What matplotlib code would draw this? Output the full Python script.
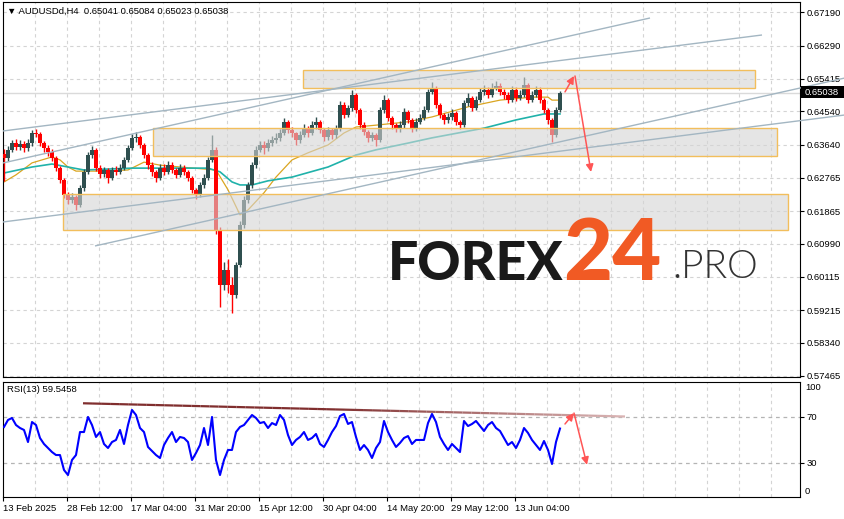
import matplotlib
matplotlib.use('Agg')
import matplotlib.pyplot as plt
import numpy as np
from matplotlib.collections import LineCollection
from matplotlib.patches import Rectangle

plt.rcParams['font.family'] = ['Liberation Sans', 'DejaVu Sans']

# ---------------- data ----------------
opens = [
    0.6340, 0.6329, 0.6351, 0.6369, 0.6359, 0.6367, 0.6356, 0.6369, 0.6396, 0.6393,
    0.6369, 0.6356, 0.6345, 0.6329, 0.6302, 0.6270, 0.6230, 0.6217, 0.6225, 0.6203,
    0.6249, 0.6292, 0.6337, 0.6351, 0.6302, 0.6286, 0.6297, 0.6276, 0.6297, 0.6292,
    0.6302, 0.6324, 0.6356, 0.6383, 0.6385, 0.6364, 0.6337, 0.6310, 0.6292, 0.6276,
    0.6302, 0.6292, 0.6310, 0.6297, 0.6284, 0.6302, 0.6292, 0.6276, 0.6244, 0.6230,
    0.6257, 0.6276, 0.6324, 0.6351, 0.6137, 0.5989, 0.6030, 0.5989, 0.5963, 0.6043,
    0.6150, 0.6217, 0.6257, 0.6310, 0.6351, 0.6364, 0.6356, 0.6369, 0.6377, 0.6383,
    0.6396, 0.6426, 0.6404, 0.6396, 0.6377, 0.6391, 0.6409, 0.6396, 0.6417, 0.6426,
    0.6404, 0.6385, 0.6404, 0.6391, 0.6409, 0.6471, 0.6444, 0.6463, 0.6498, 0.6458,
    0.6417, 0.6399, 0.6383, 0.6391, 0.6377, 0.6458, 0.6484, 0.6436, 0.6417, 0.6409,
    0.6417, 0.6452, 0.6431, 0.6409, 0.6426, 0.6436, 0.6458, 0.6506, 0.6517, 0.6471,
    0.6444, 0.6431, 0.6439, 0.6450, 0.6426, 0.6417, 0.6476, 0.6490, 0.6463, 0.6484,
    0.6506, 0.6511, 0.6498, 0.6517, 0.6522, 0.6506, 0.6498, 0.6484, 0.6511, 0.6490,
    0.6498, 0.6525, 0.6484, 0.6498, 0.6511, 0.6484, 0.6458, 0.6431, 0.6391, 0.6458,
]
closes = [
    0.6329, 0.6351, 0.6369, 0.6359, 0.6367, 0.6356, 0.6369, 0.6396, 0.6393, 0.6369,
    0.6356, 0.6345, 0.6329, 0.6302, 0.6270, 0.6230, 0.6217, 0.6225, 0.6203, 0.6249,
    0.6292, 0.6337, 0.6351, 0.6302, 0.6286, 0.6297, 0.6276, 0.6297, 0.6292, 0.6302,
    0.6324, 0.6356, 0.6383, 0.6385, 0.6364, 0.6337, 0.6310, 0.6292, 0.6276, 0.6302,
    0.6292, 0.6310, 0.6297, 0.6284, 0.6302, 0.6292, 0.6276, 0.6244, 0.6230, 0.6257,
    0.6276, 0.6324, 0.6351, 0.6137, 0.5989, 0.6030, 0.5989, 0.5963, 0.6043, 0.6150,
    0.6217, 0.6257, 0.6310, 0.6351, 0.6364, 0.6356, 0.6369, 0.6377, 0.6383, 0.6396,
    0.6426, 0.6404, 0.6396, 0.6377, 0.6391, 0.6409, 0.6396, 0.6417, 0.6426, 0.6404,
    0.6385, 0.6404, 0.6391, 0.6409, 0.6471, 0.6444, 0.6463, 0.6498, 0.6458, 0.6417,
    0.6399, 0.6383, 0.6391, 0.6377, 0.6458, 0.6484, 0.6436, 0.6417, 0.6409, 0.6417,
    0.6452, 0.6431, 0.6409, 0.6426, 0.6436, 0.6458, 0.6506, 0.6517, 0.6471, 0.6444,
    0.6431, 0.6439, 0.6450, 0.6426, 0.6417, 0.6476, 0.6490, 0.6463, 0.6484, 0.6506,
    0.6511, 0.6498, 0.6517, 0.6522, 0.6506, 0.6498, 0.6484, 0.6511, 0.6490, 0.6498,
    0.6525, 0.6484, 0.6498, 0.6511, 0.6484, 0.6458, 0.6431, 0.6391, 0.6458, 0.65038,
]
highs = [
    0.6352, 0.6360, 0.6378, 0.6381, 0.6377, 0.6374, 0.6380, 0.6404, 0.6408, 0.6398,
    0.6375, 0.6363, 0.6352, 0.6334, 0.6308, 0.6276, 0.6238, 0.6236, 0.6230, 0.6256,
    0.6300, 0.6345, 0.6362, 0.6355, 0.6310, 0.6306, 0.6302, 0.6305, 0.6308, 0.6312,
    0.6333, 0.6364, 0.6392, 0.6399, 0.6390, 0.6370, 0.6342, 0.6318, 0.6298, 0.6312,
    0.6312, 0.6320, 0.6318, 0.6302, 0.6312, 0.6310, 0.6298, 0.6282, 0.6250, 0.6265,
    0.6285, 0.6332, 0.6390, 0.6358, 0.6145, 0.6050, 0.6058, 0.6010, 0.6052, 0.6160,
    0.6228, 0.6265, 0.6318, 0.6360, 0.6375, 0.6375, 0.6380, 0.6388, 0.6395, 0.6408,
    0.6436, 0.6432, 0.6412, 0.6400, 0.6402, 0.6420, 0.6415, 0.6428, 0.6438, 0.6430,
    0.6410, 0.6412, 0.6410, 0.6418, 0.6482, 0.6478, 0.6472, 0.6512, 0.6503, 0.6463,
    0.6425, 0.6405, 0.6400, 0.6396, 0.6466, 0.6498, 0.6490, 0.6442, 0.6424, 0.6428,
    0.6462, 0.6458, 0.6436, 0.6435, 0.6446, 0.6468, 0.6515, 0.6533, 0.6522, 0.6476,
    0.6450, 0.6450, 0.6460, 0.6456, 0.6432, 0.6485, 0.6502, 0.6496, 0.6494, 0.6516,
    0.6524, 0.6518, 0.6530, 0.6535, 0.6530, 0.6515, 0.6505, 0.6522, 0.6518, 0.6510,
    0.6546, 0.6530, 0.6508, 0.6522, 0.6518, 0.6490, 0.6464, 0.6436, 0.6466, 0.65084,
]
lows = [
    0.6268, 0.6322, 0.6344, 0.6350, 0.6350, 0.6345, 0.6348, 0.6362, 0.6385, 0.6362,
    0.6345, 0.6335, 0.6320, 0.6295, 0.6262, 0.6222, 0.6205, 0.6208, 0.6190, 0.6198,
    0.6242, 0.6285, 0.6330, 0.6295, 0.6275, 0.6278, 0.6262, 0.6270, 0.6283, 0.6285,
    0.6296, 0.6318, 0.6350, 0.6372, 0.6355, 0.6328, 0.6300, 0.6282, 0.6265, 0.6270,
    0.6284, 0.6285, 0.6288, 0.6275, 0.6278, 0.6284, 0.6268, 0.6236, 0.6220, 0.6225,
    0.6250, 0.6270, 0.6318, 0.6125, 0.5930, 0.5975, 0.5968, 0.5915, 0.5955, 0.6038,
    0.6142, 0.6208, 0.6250, 0.6302, 0.6345, 0.6340, 0.6348, 0.6360, 0.6368, 0.6375,
    0.6390, 0.6396, 0.6385, 0.6365, 0.6370, 0.6385, 0.6386, 0.6390, 0.6408, 0.6395,
    0.6375, 0.6378, 0.6380, 0.6383, 0.6402, 0.6436, 0.6438, 0.6455, 0.6450, 0.6408,
    0.6390, 0.6372, 0.6375, 0.6360, 0.6372, 0.6450, 0.6428, 0.6408, 0.6398, 0.6400,
    0.6410, 0.6422, 0.6400, 0.6402, 0.6420, 0.6430, 0.6452, 0.6500, 0.6462, 0.6436,
    0.6420, 0.6424, 0.6432, 0.6418, 0.6408, 0.6412, 0.6468, 0.6455, 0.6458, 0.6478,
    0.6498, 0.6490, 0.6492, 0.6510, 0.6498, 0.6488, 0.6475, 0.6478, 0.6482, 0.6484,
    0.6492, 0.6476, 0.6478, 0.6492, 0.6476, 0.6450, 0.6420, 0.6372, 0.6385, 0.6452,
]
rsi_values = [
    60.9, 67.0, 68.7, 62.6, 60.0, 58.3, 47.8, 65.2, 62.6, 51.3,
    46.1, 42.6, 39.1, 36.5, 36.5, 23.5, 19.1, 32.2, 36.5, 56.5,
    56.5, 69.6, 62.6, 52.2, 56.5, 46.1, 42.6, 47.8, 49.6, 58.3,
    46.1, 62.6, 75.7, 71.3, 60.0, 56.5, 43.5, 40.0, 36.5, 33.9,
    45.2, 51.3, 56.5, 47.8, 52.2, 51.3, 47.8, 32.2, 38.3, 45.2,
    60.0, 45.2, 69.6, 32.2, 19.1, 32.2, 40.9, 40.9, 56.5, 60.9,
    62.6, 67.0, 71.3, 68.7, 64.3, 65.2, 60.0, 64.3, 62.6, 71.3,
    67.0, 53.9, 45.2, 49.6, 52.2, 56.5, 49.6, 51.3, 54.8, 46.1,
    43.5, 49.6, 56.5, 61.7, 70.4, 72.2, 63.5, 65.2, 52.2, 40.9,
    45.2, 40.9, 33.9, 42.6, 47.8, 66.1, 56.5, 49.6, 43.5, 47.0,
    51.3, 53.0, 46.1, 49.6, 49.6, 49.6, 64.3, 72.2, 65.2, 52.2,
    46.1, 40.9, 46.1, 42.6, 39.1, 66.1, 61.7, 63.5, 66.1, 61.7,
    57.4, 62.6, 65.2, 60.0, 57.4, 51.3, 45.2, 47.8, 42.6, 49.6,
    60.0, 55.7, 49.6, 45.2, 40.9, 48.7, 40.9, 28.7, 47.8, 59.5458,
]
ma_fast_idx = [0, 3, 7, 12, 14, 16, 18, 24, 31, 35, 39, 44, 53, 56, 59, 61, 65, 68,
               72, 76, 81, 85, 88, 93, 101, 107, 116, 124, 132, 136, 137, 139]
ma_fast_val = [0.6265, 0.6284, 0.6316, 0.6332, 0.6324, 0.6305, 0.6294, 0.6294, 0.6297,
               0.6318, 0.6310, 0.6305, 0.6297, 0.6244, 0.6177, 0.6190, 0.6236, 0.6278,
               0.6324, 0.6343, 0.6364, 0.6396, 0.6412, 0.6417, 0.6426, 0.6439, 0.6466,
               0.6484, 0.6492, 0.6492, 0.6484, 0.6484]
ma_slow_idx = [0, 7, 12, 16, 20, 32, 42, 51, 54, 57, 59, 62, 66, 72, 81, 88, 93, 101,
               107, 120, 128, 135, 139]
ma_slow_val = [0.6289, 0.6305, 0.6313, 0.6305, 0.6297, 0.6302, 0.6302, 0.6302, 0.6292,
               0.6265, 0.6257, 0.6257, 0.6268, 0.6278, 0.6305, 0.6337, 0.6351, 0.6369,
               0.6383, 0.6409, 0.6431, 0.6447, 0.6447]

price_ticks = [0.67190, 0.66290, 0.65415, 0.64540, 0.63640, 0.62765,
               0.61865, 0.60990, 0.60115, 0.59215, 0.58340, 0.57465]
date_labels = ['13 Feb 2025', '28 Feb 12:00', '17 Mar 04:00', '31 Mar 20:00',
               '15 Apr 12:00', '30 Apr 04:00', '14 May 20:00', '29 May 12:00',
               '13 Jun 04:00']
# zones (x from, x to in bars; price low, price high)
zones = [(74.75, 187.75, 0.6517, 0.6565),
         (37.25, 193.25, 0.63345, 0.64095),
         (14.75, 196.0, 0.61365, 0.62328)]
# trend lines (bar, price) -> (bar, price)
trend_lines = [((-0.25, 0.64014), (189.5, 0.66583)),
               ((-0.25, 0.63158), (161.5, 0.67038)),
               ((-0.25, 0.61579), (210.25, 0.64443)),
               ((22.75, 0.60937), (210.25, 0.65433))]
last_price = 0.65038
rsi_last = 59.5458

# ---------------- figure ----------------
W, H = 845, 519
fig = plt.figure(figsize=(W / 100, H / 100), dpi=100)


def fx(px):
    return px / W


def fy(py):
    return 1 - py / H


ax = fig.add_axes([fx(3), fy(377), fx(800) - fx(3), fy(2) - fy(377)])
axr = fig.add_axes([fx(3), fy(497), fx(800) - fx(3), fy(382) - fy(497)])

XL = (-0.25, 199)
for a in (ax, axr):
    a.set_xlim(*XL)
    for s in a.spines.values():
        s.set_color('black')
        s.set_linewidth(0.8)
    a.set_facecolor('white')

ax.set_ylim(0.57430, 0.67466)
axr.set_ylim(0, 100)

grid_x = [-0.25 + 8 * k for k in range(1, 26)]
dash = (0, (3, 3))
for a in (ax, axr):
    for gx in grid_x:
        a.axvline(gx, color='#D4D4D4', lw=0.8, linestyle=dash, zorder=0.5)
for p in price_ticks:
    ax.axhline(p, color='#D4D4D4', lw=0.8, linestyle=dash, zorder=0.5)
for r in (30, 70):
    axr.axhline(r, color='#B4B4B4', lw=0.9, linestyle=dash, zorder=0.5)

# bid line
ax.axhline(last_price, color='#DADADA', lw=1.0, zorder=0.8)

# moving averages
ax.plot(ma_fast_idx, ma_fast_val, color='#DAA520', lw=0.9, zorder=2)
ax.plot(ma_slow_idx, ma_slow_val, color='#20B2AA', lw=1.2, zorder=2)

# candles
o = np.array(opens); c = np.array(closes)
hi = np.array(highs); lo = np.array(lows)
xs = np.arange(len(c))
cols = np.where(c >= o, '#2F4F4F', '#FF0000')
ax.vlines(xs, lo, hi, colors=cols, lw=1.0, zorder=3)
ax.bar(xs, np.maximum(np.abs(c - o), 0.00008), bottom=np.minimum(o, c),
       width=0.82, color=cols, zorder=3, linewidth=0)

# zones
for x0, x1, p0, p1 in zones:
    ax.add_patch(Rectangle((x0, p0), x1 - x0, p1 - p0,
                           facecolor=(0.83, 0.83, 0.83, 0.6),
                           edgecolor='#F2BE5C', lw=1.0, zorder=4))

# trend lines
for (x0, y0), (x1, y1) in trend_lines:
    ax.plot([x0, x1], [y0, y1], color='#A3B6C2', lw=1.0, zorder=5,
            clip_on=False, solid_capstyle='butt')

# arrows main
arr = dict(arrowstyle='-|>', color='#FF5555', lw=1.1, mutation_scale=11,
           shrinkA=0, shrinkB=0)
ax.annotate('', xy=(142.5, 0.65486), xytext=(140.25, 0.6506), arrowprops=arr,
            annotation_clip=False, zorder=6)
ax.annotate('', xy=(146.75, 0.62917), xytext=(142.75, 0.65486), arrowprops=arr,
            annotation_clip=False, zorder=6)

# RSI
axr.plot(xs, rsi_values, color='#0000FF', lw=1.5, zorder=3)
tx0, ty0, tx1, ty1 = 19.75, 81.5, 155.25, 70.0
n = 60
tt = np.linspace(0, 1, n + 1)
pts = np.column_stack([tx0 + (tx1 - tx0) * tt, ty0 + (ty1 - ty0) * tt])
segs = np.stack([pts[:-1], pts[1:]], axis=1)
c_dark = np.array([0.50, 0.18, 0.18])
c_light = np.array([0.86, 0.72, 0.72])
mix = np.clip((tt[:-1] - 0.45) / 0.55, 0, 1)[:, None]
seg_cols = c_dark * (1 - mix) + c_light * mix
axr.add_collection(LineCollection(segs, colors=seg_cols, linewidths=1.6, zorder=4))
axr.annotate('', xy=(142.5, 73.0), xytext=(140.25, 63.5), arrowprops=arr,
             annotation_clip=False, zorder=6)
axr.annotate('', xy=(145.75, 28.0), xytext=(142.5, 73.0), arrowprops=arr,
             annotation_clip=False, zorder=6)

# axes ticks
FS = 6.8
ax.yaxis.tick_right()
ax.set_yticks(price_ticks)
ax.set_yticklabels([f'{p:.5f}' for p in price_ticks])
ax.tick_params(axis='y', direction='out', length=3, width=0.8, pad=2,
               labelsize=FS, colors='black')
ax.set_xticks([])

axr.yaxis.tick_right()
axr.set_yticks([30, 70])
axr.set_yticklabels(['30', '70'])
axr.tick_params(axis='y', direction='out', length=3, width=0.8, pad=2,
                labelsize=FS)
axr.set_xticks([-0.25 + 16 * k for k in range(len(date_labels))])
axr.set_xticklabels(date_labels)
for lb in axr.get_xticklabels():
    lb.set_ha('left')
axr.tick_params(axis='x', direction='out', length=3, width=0.8, pad=2,
                labelsize=FS)
fig.text(fx(805), fy(387), '100', fontsize=FS, va='center', ha='left')
fig.text(fx(805), fy(492), '0', fontsize=FS, va='center', ha='left')

# labels
fig.text(fx(7), fy(11), '\u25bc AUDUSDd,H4  0.65041 0.65084 0.65023 0.65038',
         fontsize=FS, va='center', ha='left')
fig.text(fx(7), fy(389), f'RSI(13) {rsi_last}', fontsize=FS, va='center', ha='left')

# price label
fig.patches.append(Rectangle((fx(801), fy(98)), fx(845) - fx(801), fy(86) - fy(98),
                             transform=fig.transFigure, facecolor='black',
                             edgecolor='none', zorder=10))
fig.text(fx(805), fy(92), f'{last_price:.5f}', fontsize=FS, color='white',
         va='center', ha='left', zorder=11)

# watermark
fig.text(fx(388), fy(280), 'FOREX', fontsize=38.5, fontweight=900, color='#1A1A1A',
         family=['Lato', 'DejaVu Sans'], ha='left', va='baseline', zorder=12)
fig.text(fx(563), fy(280), '24', fontsize=61, fontweight=900, color='#F15A24',
         family=['Lato', 'DejaVu Sans'], ha='left', va='baseline', zorder=12)
fig.text(fx(672), fy(278), '.PRO', fontsize=28, fontweight=300, color='#333333',
         family=['Lato', 'DejaVu Sans'], ha='left', va='baseline', zorder=12)

fig.savefig('out.png', dpi=100)
